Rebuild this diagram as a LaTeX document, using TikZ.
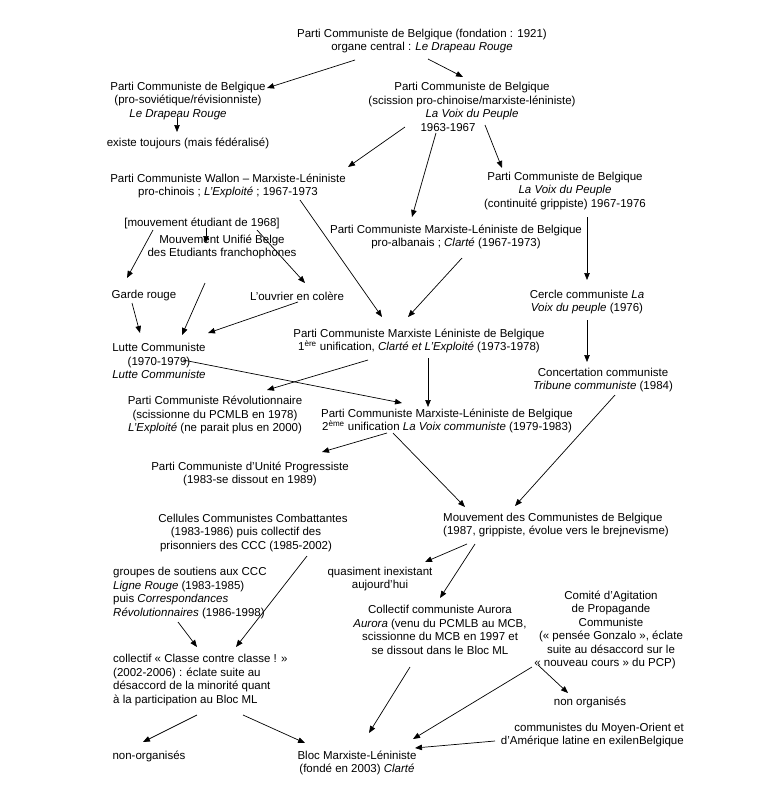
\documentclass[tikz,border=0pt]{standalone}
\usepackage{fontspec}
\setmainfont{Liberation Sans}
\usepackage{tikz}
\usetikzlibrary{arrows.meta,calc}

\begin{document}
\begin{tikzpicture}
    % 文字样式与箭头样式
    [x=1pt,y=-1pt,
    txt/.style={align=center, inner sep=0pt, font=\fontsize{11.5}{13.5}\selectfont},
    txtL/.style={txt, align=left, anchor=west},
    txtR/.style={txt, align=right, anchor=east},
    arr/.style={-{Triangle[length=7pt,width=5.5pt]}, line width=0.7pt}]

    % 背景与边界
    \fill[white](0,0)rectangle(768,788);
    \useasboundingbox (0,0) rectangle (768,788);

    % 第一层:PCB 及其分裂
    \node[txt] (top) at (422,41) {Parti Communiste de Belgique (fondation : 1921)\\organe central : \textit{Le Drapeau Rouge}};
    \node[txt] (pcbL) at (188,101) {Parti Communiste de Belgique\\(pro-soviétique/révisionniste)\\\textit{Le Drapeau Rouge}\hspace*{20pt}};
    \node[txt] (existe) at (188,143) {existe toujours (mais fédéralisé)};
    \node[txt] (pcbR) at (472,107) {Parti Communiste de Belgique\\(scission pro-chinoise/marxiste-léniniste)\\\textit{La Voix du Peuple}\hspace*{48pt}\\1963-1967\hspace*{48pt}};

    % 第二层
    \node[txt] (pcw) at (228,186) {Parti Communiste Wallon – Marxiste-Léniniste\\pro-chinois ; \textit{L’Exploité} ; 1967-1973};
    \node[txt] (pcbV) at (565,191) {Parti Communiste de Belgique\\\textit{La Voix du Peuple}\\(continuité grippiste) 1967-1976};
    \node[txt] (pcmlA) at (456,237) {Parti Communiste Marxiste-Léniniste de Belgique\\pro-albanais ; \textit{Clarté} (1967-1973)};
    \node[txt] (cercle) at (587,302) {Cercle communiste \textit{La}\\\textit{Voix du peuple} (1976)};
    \node[txt] (concert) at (603,380) {Concertation communiste\\\textit{Tribune communiste} (1984)};

    % 学生运动
    \node[txt] (mvt) at (202,223) {[mouvement étudiant de 1968]};
    \node[txt] (mub) at (222,247) {Mouvement Unifié Belge\\des Etudiants franchophones};
    \node[txt] (garde) at (144,296) {Garde rouge};
    \node[txt] (ouvrier) at (297,296) {L’ouvrier en colère};
    \node[txt] (lutte) at (159,361) {Lutte Communiste\\(1970-1979)\\\textit{Lutte Communiste}};

    % 统一与分裂
    \node[txt] (uni1) at (419,341) {Parti Communiste Marxiste Léniniste de Belgique\\1\textsuperscript{ère} unification, \textit{Clarté et L’Exploité} (1973-1978)};
    \node[txt] (pcr) at (215,415) {Parti Communiste Révolutionnaire\\(scissionne du PCMLB en 1978)\\\textit{L’Exploité} (ne parait plus en 2000)};
    \node[txt] (uni2) at (447,421) {Parti Communiste Marxiste-Léniniste de Belgique\\2\textsuperscript{ème} unification \textit{La Voix communiste} (1979-1983)};
    \node[txt] (pcup) at (250,474) {Parti Communiste d’Unité Progressiste\\(1983-se dissout en 1989)};
    \node[txtL] (mcb) at (443,525) {Mouvement des Communistes de Belgique\\(1987, grippiste, évolue vers le brejnevisme)};

    % 下半部分
    \node[txt] (ccc) at (246,533) {Cellules Communistes Combattantes\hspace*{-14pt}\\(1983-1986) puis collectif des\hspace*{16pt}\\prisonniers des CCC (1985-2002)};
    \node[txtL] (groupes) at (113,593) {groupes de soutiens aux CCC\\\textit{Ligne Rouge} (1983-1985)\\puis \textit{Correspondances}\\\textit{Révolutionnaires} (1986-1998)};
    \node[txt] (quasi) at (380,579) {quasiment inexistant\\aujourd’hui};
    \node[txt] (aurora) at (440,630) {Collectif communiste Aurora\\\textit{Aurora} (venu du PCMLB au MCB,\\scissionne du MCB en 1997 et\\se dissout dans le Bloc ML};
    \node[txt] (comite) at (611,630) {Comité d’Agitation\\de Propagande\\Communiste\hspace*{16pt}\\(« pensée Gonzalo », éclate\\suite au désaccord sur le\\« nouveau cours » du PCP)\hspace*{12pt}};
    \node[txtL] (collectif) at (113,680) {collectif « Classe contre classe ! »\\(2002-2006) : éclate suite au\\désaccord de la minorité quant\\à la participation au Bloc ML};
    \node[txt] (nonorg2) at (590,702) {non organisés};
    \node[txtR] (moyen) at (684,735) {communistes du Moyen-Orient et\\d’Amérique latine en exilenBelgique};
    \node[txt] (nonorg1) at (149,756) {non-organisés};
    \node[txt] (bloc) at (357,763) {Bloc Marxiste-Léniniste\\(fondé en 2003) \textit{Clarté}};

    % 连线:上半部分
    \draw[arr]($(top)+(-67,19)$)--($(pcbL)+(79,-13)$);
    \draw[arr]($(top)+(6,18)$)--($(pcbR)+(-9,-30)$);
    \draw[arr]($(pcbL)+(-11,16)$)--($(existe)+(-11,-11)$);
    \draw[arr]($(pcbR)+(-67,20)$)--($(pcw)+(120,-19)$);
    \draw[arr]($(pcbR)+(-36,26)$)--($(pcmlA)+(-44,-20)$);
    \draw[arr]($(pcbR)+(13,18)$)--($(pcbV)+(-63,-23)$);
    \draw[arr]($(pcbV)+(22,26)$)--($(cercle)+(0,-22)$);
    \draw[arr]($(cercle)+(0,18)$)--($(concert)+(-16,-18)$);

    % 连线:学生运动
    \draw[arr]($(mvt)+(4,5)$)--($(mub)+(-16,-4)$);
    \draw[arr]($(mvt)+(-49,7)$)--($(garde)+(-17,-18)$);
    \draw[arr]($(mvt)+(55,7)$)--($(ouvrier)+(8,-13)$);
    \draw[arr]($(garde)+(-12,7)$)--($(lutte)+(-19,-28)$);
    \draw[arr]($(mub)+(-17,36)$)--($(lutte)+(23,-26)$);
    \draw[arr]($(ouvrier)+(1,6)$)--($(lutte)+(49,-28)$);

    % 连线:统一与分裂
    \draw[arr]($(pcw)+(72,14)$)--($(uni1)+(-37,-24)$);
    \draw[arr]($(pcmlA)+(6,21)$)--($(uni1)+(-11,-24)$);
    \draw[arr]($(uni1)+(9,17)$)--($(uni2)+(-19,-14)$);
    \draw[arr]($(uni1)+(-51,19)$)--($(pcr)+(52,-25)$);
    \draw[arr]($(lutte)+(24,-1)$)--($(uni2)+(-45,-18)$);
    \draw[arr]($(uni2)+(-60,12)$)--($(pcup)+(72,-22)$);
    \draw[arr]($(uni2)+(-54,12)$)--($(mcb.west)+(22,-18)$);
    \draw[arr]($(concert)+(12,15)$)--($(mcb.west)+(72,-19)$);

    % 连线:下半部分
    \draw[arr]($(mcb.west)+(24,19)$)--($(quasi)+(45,-17)$);
    \draw[arr]($(mcb.west)+(32,19)$)--($(aurora)+(0,-32)$);
    \draw[arr]($(ccc)+(61,23)$)--($(collectif.west)+(123,-33)$);
    \draw[arr]($(groupes.west)+(65,29)$)--($(collectif.west)+(84,-33)$);
    \draw[arr]($(collectif.west)+(84,35)$)--($(nonorg1)+(-6,-14)$);
    \draw[arr]($(collectif.west)+(130,35)$)--($(bloc)+(-52,-20)$);
    \draw[arr]($(aurora)+(-30,37)$)--($(bloc)+(12,-30)$);
    \draw[arr]($(comite)+(-73,35)$)--($(nonorg2)+(-22,-9)$);
    \draw[arr]($(comite)+(-79,37)$)--($(bloc)+(56,-24)$);
    \draw[arr]($(moyen.east)+(-189,6)$)--($(bloc)+(58,-15)$);
\end{tikzpicture}
\end{document}
